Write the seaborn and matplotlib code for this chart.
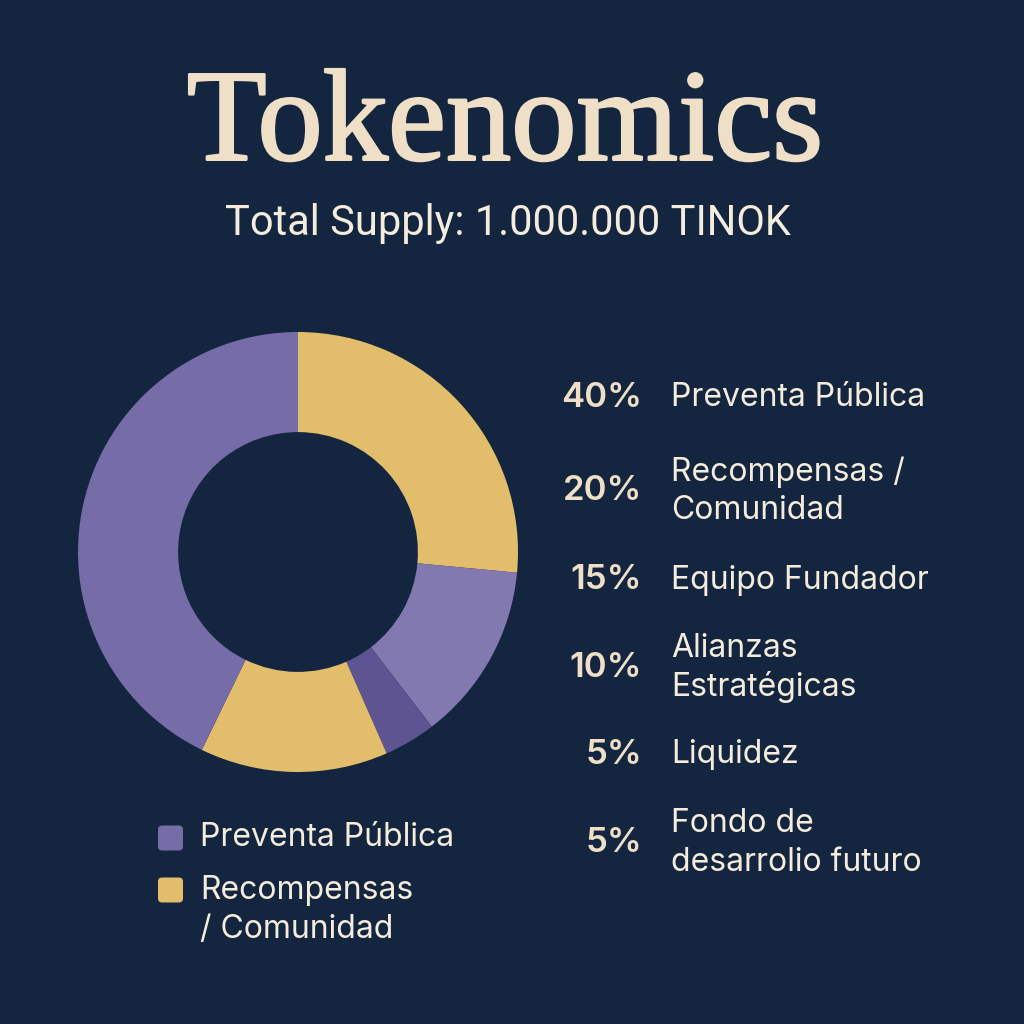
import matplotlib.pyplot as plt
import matplotlib.patheffects as pe
from matplotlib.patches import FancyBboxPatch
import seaborn as sns

# ring slices, clockwise from 12 o'clock
slice_values = [26.5, 13.1, 3.8, 13.8, 42.8]
slice_colors = ["#e2bd6c", "#8279b0", "#5e5492", "#e2bd6c", "#766ca7"]

# allocation list on the right
pct_labels = ["40%", "20%", "15%", "10%", "5%", "5%"]
alloc_labels = ["Preventa Pública", "Recompensas /\nComunidad", "Equipo Fundador",
                "Alianzas\nEstratégicas", "Liquidez", "Fondo de\ndesarrolio futuro"]

# legend under the ring
legend_labels = ["Preventa Pública", "Recompensas\n/ Comunidad"]
legend_colors = ["#766ca7", "#e2bd6c"]

title = "Tokenomics"
subtitle = "Total Supply: 1.000.000 TINOK"

BG = "#13253f"
CREAM = "#eedfc6"
TEXT = "#f4ecdc"

sns.set_theme(style="dark", rc={"figure.facecolor": BG, "axes.facecolor": BG,
                                "savefig.facecolor": BG})
plt.rcParams["font.family"] = ["Inter", "DejaVu Sans"]

W = 1024


def fx(px):
    return px / W


def fy(py):
    return 1 - py / W


fig = plt.figure(figsize=(10.24, 10.24), dpi=100)

# donut: centre (298, 552) px, outer radius 220 px
cx, cy, r = 298, 552, 220
ax = fig.add_axes([fx(cx - r), fy(cy + r), 2 * r / W, 2 * r / W])
ax.pie(slice_values, colors=slice_colors, startangle=90, counterclock=False,
       radius=1, wedgeprops=dict(width=0.455, edgecolor="none"))
ax.set_xlim(-1, 1)
ax.set_ylim(-1, 1)
ax.set_aspect("equal")
ax.axis("off")

# title + subtitle
t = fig.text(fx(505), fy(128), title, ha="center", va="center", color=CREAM,
             fontsize=94, family=["Liberation Serif", "DejaVu Serif"])
t.set_path_effects([pe.Stroke(linewidth=1.8, foreground=CREAM), pe.Normal()])
fig.text(fx(508), fy(224), subtitle, ha="center", va="center", color=TEXT,
         fontsize=30, family=["Roboto", "DejaVu Sans"])

# right-hand list
row_y = [398, 491, 580, 668, 755, 843]
for y, p, lab in zip(row_y, pct_labels, alloc_labels):
    fig.text(fx(642), fy(y), p, ha="right", va="center", color=CREAM,
             fontsize=25, fontweight="semibold")
    fig.text(fx(671), fy(y), lab, ha="left", va="center", color=TEXT,
             fontsize=23, linespacing=1.3)

# legend
leg_box_y = [838, 890]
leg_text_y = [838, 910]
box = 25
for by, ty, lab, col in zip(leg_box_y, leg_text_y, legend_labels, legend_colors):
    fig.patches.append(FancyBboxPatch((fx(158), fy(by + box / 2)), box / W, box / W,
                                      boxstyle="round,pad=0,rounding_size=0.004",
                                      transform=fig.transFigure, facecolor=col,
                                      edgecolor="none"))
    fig.text(fx(200), fy(ty), lab, ha="left", va="center", color=TEXT,
             fontsize=23, linespacing=1.3)

fig.savefig("out.png", dpi=100)
